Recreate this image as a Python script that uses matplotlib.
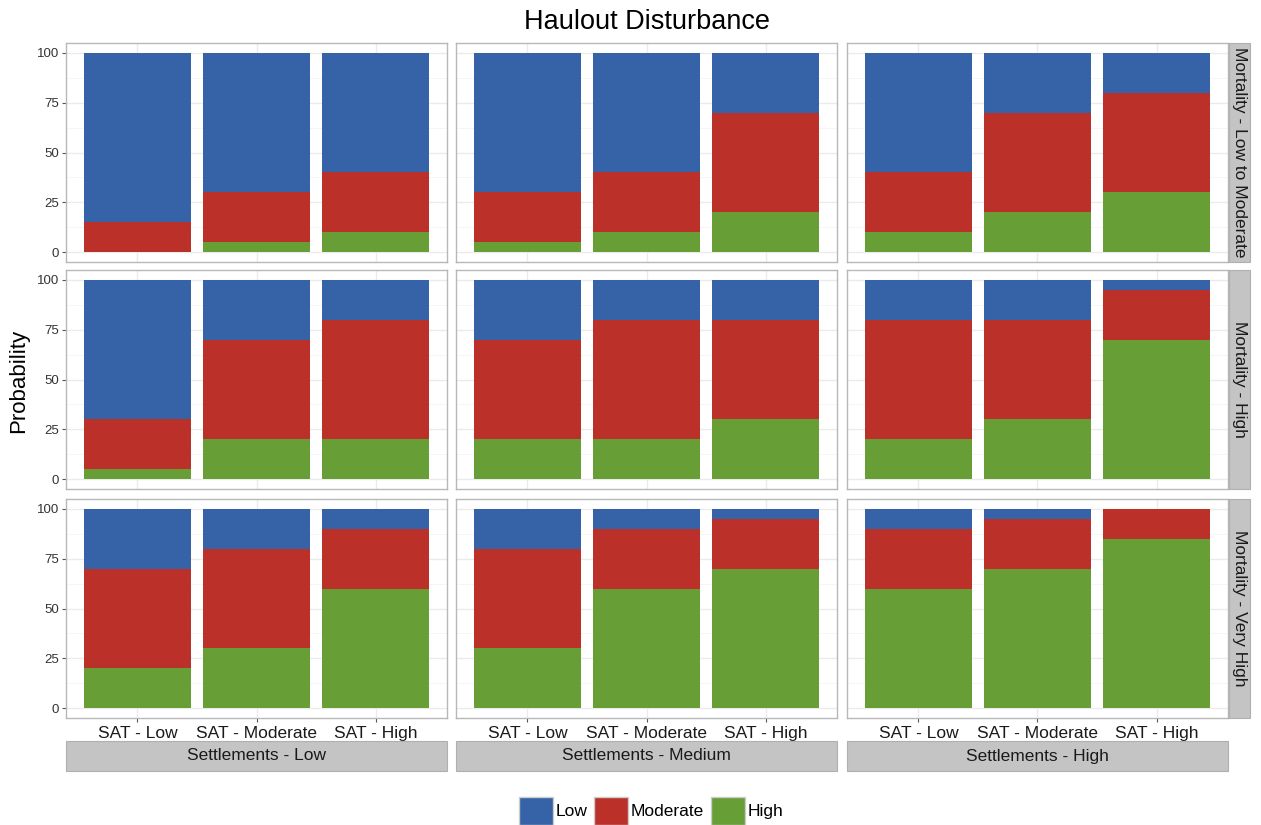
import matplotlib
matplotlib.use("Agg")
import matplotlib.pyplot as plt
from matplotlib.patches import Patch, Rectangle
import numpy as np

plt.rcParams['font.family'] = ['Liberation Sans', 'DejaVu Sans']

sat_levels = ["SAT - Low", "SAT - Moderate", "SAT - High"]
settlements = ["Settlements - Low", "Settlements - Medium", "Settlements - High"]
mortality = ["Mortality - Low to Moderate", "Mortality - High", "Mortality - Very High"]
categories = ["Low", "Moderate", "High"]
colors = {"Low": "#3662a8", "Moderate": "#bb3028", "High": "#679f36"}

# High (green) probability: [mortality row][settlement col][sat]
high_prob = [
    [[0, 5, 10], [5, 10, 20], [10, 20, 30]],
    [[5, 20, 20], [20, 20, 30], [20, 30, 70]],
    [[20, 30, 60], [30, 60, 70], [60, 70, 85]],
]
# Moderate (red) probability
moderate_prob = [
    [[15, 25, 30], [25, 30, 50], [30, 50, 50]],
    [[25, 50, 60], [50, 60, 50], [60, 50, 25]],
    [[50, 50, 30], [50, 30, 25], [30, 25, 15]],
]
# Low (blue) probability
low_prob = [
    [[85, 70, 60], [70, 60, 30], [60, 30, 20]],
    [[70, 30, 20], [30, 20, 20], [20, 20, 5]],
    [[30, 20, 10], [20, 10, 5], [10, 5, 0]],
]

W, H = 1261, 825
fig = plt.figure(figsize=(W / 100, H / 100), dpi=100)

col_left = [66, 456, 847]
panel_w = 381
row_top = [43, 270, 499]
panel_h = 219

border = "#b8b8b8"
grid_major = "#ebebeb"
grid_minor = "#f4f4f4"
strip_col = "#c4c4c4"
text_col = "#1a1a1a"
FS = 12.5

x = np.arange(len(sat_levels))
for r in range(3):
    for c in range(3):
        ax = fig.add_axes([col_left[c] / W, 1 - (row_top[r] + panel_h) / H,
                           panel_w / W, panel_h / H])
        ax.set_xlim(-0.6, 2.6)
        ax.set_ylim(-5, 105)
        for yv in [12.5, 37.5, 62.5, 87.5]:
            ax.axhline(yv, color=grid_minor, lw=0.6, zorder=0)
        for yv in [0, 25, 50, 75, 100]:
            ax.axhline(yv, color=grid_major, lw=1.0, zorder=0)
        for xv in x:
            ax.axvline(xv, color=grid_major, lw=1.0, zorder=0)
        g = np.array(high_prob[r][c], dtype=float)
        m = np.array(moderate_prob[r][c], dtype=float)
        lo = np.array(low_prob[r][c], dtype=float)
        ax.bar(x, g, width=0.9, color=colors["High"], zorder=2)
        ax.bar(x, m, width=0.9, bottom=g, color=colors["Moderate"], zorder=2)
        ax.bar(x, lo, width=0.9, bottom=g + m, color=colors["Low"], zorder=2)
        for s in ax.spines.values():
            s.set_color(border)
            s.set_linewidth(1.0)
        ax.set_yticks([0, 25, 50, 75, 100])
        ax.set_xticks(x)
        ax.tick_params(length=3, color="#555555", width=0.8, pad=2)
        ax.tick_params(axis='x', pad=2.5)
        if c == 0:
            ax.set_yticklabels(["0", "25", "50", "75", "100"], fontsize=9.5, color="#333333")
        else:
            ax.tick_params(axis='y', length=0)
            ax.set_yticklabels([])
        if r == 2:
            ax.set_xticklabels(sat_levels, fontsize=FS, color=text_col)
        else:
            ax.tick_params(axis='x', length=0)
            ax.set_xticklabels([])
        # right strips
        if c == 2:
            sx = (col_left[c] + panel_w + 1) / W
            sy = 1 - (row_top[r] + panel_h) / H
            fig.patches.append(Rectangle((sx, sy), 21 / W, panel_h / H,
                                         transform=fig.transFigure,
                                         facecolor=strip_col, edgecolor="#b0b0b0", lw=0.8))
            fig.text(sx + 10.5 / W, sy + panel_h / H / 2, mortality[r],
                     rotation=-90, ha="center", va="center", fontsize=FS, color=text_col)

# bottom strips
for c in range(3):
    sx = col_left[c] / W
    sy = 1 - 771 / H
    fig.patches.append(Rectangle((sx, sy), panel_w / W, 30 / H,
                                 transform=fig.transFigure,
                                 facecolor=strip_col, edgecolor="#b0b0b0", lw=0.8))
    fig.text(sx + panel_w / W / 2, sy + 15 / H, settlements[c],
             ha="center", va="center", fontsize=FS, color=text_col)

fig.text(647 / W, 1 - 22 / H, "Haulout Disturbance", ha="center", va="center",
         fontsize=19.5, color="#000000")
fig.text(19 / W, 1 - 381 / H, "Probability", rotation=90, ha="center", va="center",
         fontsize=16, color="#000000")

handles = [Patch(facecolor=colors[k], edgecolor="#cccccc", lw=1.0) for k in categories]
fig.legend(handles, categories, loc="center", bbox_to_anchor=(651 / W, 1 - 811 / H),
           ncol=3, frameon=False, fontsize=FS, handlelength=1.95, handleheight=2.1,
           handletextpad=0.15, columnspacing=0.4, borderaxespad=0)

fig.savefig("out.png", dpi=100, facecolor="white")
